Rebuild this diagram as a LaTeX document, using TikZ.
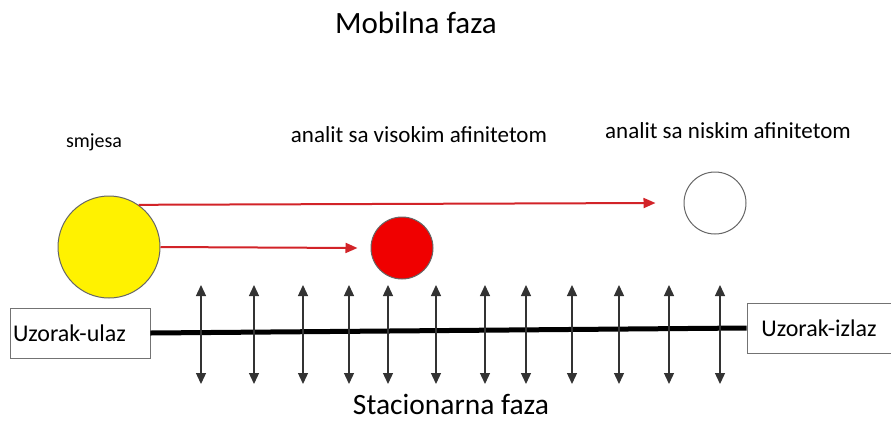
\documentclass[tikz,border=0pt]{standalone}
\usepackage{fontspec}
\setmainfont{Carlito}
\usetikzlibrary{arrows.meta}

\begin{document}
\begin{tikzpicture}[x=1pt,y=-1pt]
    \tikzstyle{every node}+=[inner sep=0pt]
    \tikzstyle{naslov}=[anchor=base, font=\fontsize{31}{36}\selectfont]
    \tikzstyle{oznaka}=[anchor=base, font=\fontsize{23}{27}\selectfont]
    \tikzstyle{kutija}=[draw=black!55, line width=0.9pt, fill=white, minimum height=50pt, font=\fontsize{24}{28}\selectfont]
    \tikzstyle{kugla}=[circle, draw=black!60, line width=1pt]
    \tikzstyle{crvena}=[draw={rgb,255:red,210;green,35;blue,40}, line width=2pt, -{Triangle[length=12pt,width=10pt]}]
    \tikzstyle{veza}=[draw=black!80, line width=1.3pt, {Triangle[length=11pt,width=10pt]}-{Triangle[length=11pt,width=10pt]}]
    \useasboundingbox (0,0) rectangle (891,421);
    \node [naslov] (mobilna) at (416,33) {Mobilna faza};
    \node [naslov, font=\fontsize{29.5}{34}\selectfont] (stacionarna) at (451,414) {Stacionarna faza};
    \node [oznaka, font=\fontsize{20}{24}\selectfont] (tsmjesa) at (94,147) {smjesa};
    \node [oznaka] (tvisoki) at (419,142) {analit sa visokim afinitetom};
    \node [oznaka] (tniski) at (728,138) {analit sa niskim afinitetom};
    \node [kugla, fill=yellow, minimum size=102pt] (smjesa) at (109,247) {};
    \node [kugla, fill={rgb,255:red,240;green,0;blue,0}, minimum size=62pt] (visoki) at (402,248) {};
    \node [kugla, fill=white, minimum size=62pt] (niski) at (715,203) {};
    \draw [crvena] (smjesa.55) -- ([xshift=-28pt]niski.west);
    \draw [crvena] (smjesa.east) -- ([xshift=-13pt]visoki.west);
    \node [kutija, minimum width=140pt, text width=134pt] (ulaz) at (80,333) {Uzorak-ulaz};
    \node [kutija, minimum width=144pt, text width=136pt, align=center] (izlaz) at (819,328) {Uzorak-izlaz};
    \draw [black, line width=5pt] (ulaz.east) -- (izlaz.west);
    \foreach \x [count=\i] in {201,254,303,349,388,436,485,526,572,619,669,720} {
        \coordinate (g\i) at (\x,285);
        \coordinate (d\i) at (\x,384);
        \draw [veza] (g\i) -- (d\i);
    }
\end{tikzpicture}
\end{document}
